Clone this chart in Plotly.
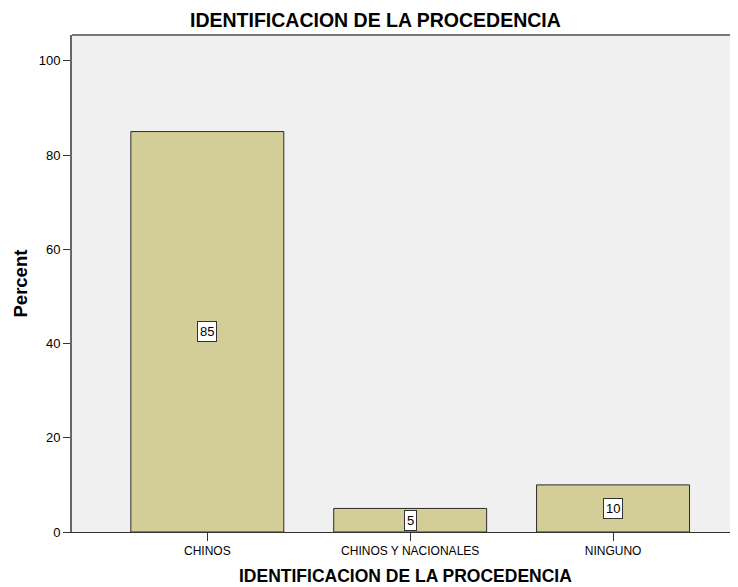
import plotly.graph_objects as go

categories = ["CHINOS", "CHINOS Y NACIONALES", "NINGUNO"]
percents = [85, 5, 10]
y_ticks = [0, 20, 40, 60, 80, 100]

FONT = "Liberation Sans, Arial"

fig = go.Figure()
fig.add_trace(go.Bar(
    x=list(range(len(categories))), y=percents,
    width=0.754,
    marker=dict(color="#D3CE97", line=dict(color="#2b2b2b", width=1)),
    hoverinfo="skip",
))

for i, v in enumerate(percents):
    fig.add_annotation(
        x=i, y=v / 2, text=str(v), showarrow=False,
        font=dict(family=FONT, size=13, color="#000"),
        bgcolor="white", bordercolor="#333", borderwidth=1, borderpad=2,
    )

# chart title
fig.add_annotation(xref="paper", yref="paper", x=0.456, y=1.0, yanchor="middle", yshift=15,
                   text="<b>IDENTIFICACION DE LA PROCEDENCIA</b>", showarrow=False,
                   font=dict(family=FONT, size=19.5, color="#000"))
# x axis title
fig.add_annotation(xref="paper", yref="paper", x=0.5, y=0.0, yanchor="middle", yshift=-44,
                   text="<b>IDENTIFICACION DE LA PROCEDENCIA</b>", showarrow=False,
                   font=dict(family=FONT, size=17.5, color="#000"))
# y axis title
fig.add_annotation(xref="paper", yref="paper", x=0.0, y=0.5, xanchor="center", xshift=-52,
                   text="<b>Percent</b>", showarrow=False, textangle=-90,
                   font=dict(family=FONT, size=18.5, color="#000"))

fig.update_layout(
    width=730, height=579,
    margin=dict(l=64, r=0, t=27, b=55),
    paper_bgcolor="white", plot_bgcolor="#F0F0F0",
    showlegend=False,
    font=dict(family=FONT, size=12, color="#000"),
    xaxis=dict(
        range=[-0.667, 2.616],
        tickvals=list(range(len(categories))), ticktext=categories,
        ticks="outside", ticklen=8, tickcolor="#333",
        showline=True, linecolor="#333", linewidth=1,
        showgrid=False, zeroline=False,
        tickfont=dict(family=FONT, size=12, color="#000"),
    ),
    yaxis=dict(
        range=[0, 105.5],
        tickvals=y_ticks,
        ticks="outside", ticklen=7, tickcolor="#333",
        showline=True, linecolor="#666", linewidth=2,
        showgrid=False, zeroline=False,
        tickfont=dict(family=FONT, size=13, color="#000"),
    ),
    shapes=[dict(type="line", xref="paper", yref="paper", x0=0, x1=1, y0=1, y1=1,
                 line=dict(color="#777", width=2))],
)

fig.write_html("out.html")
